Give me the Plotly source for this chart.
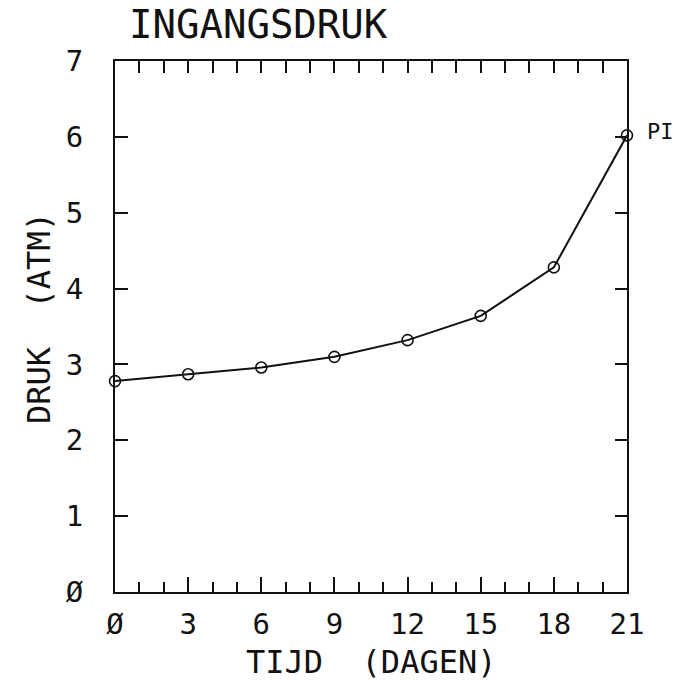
import plotly.graph_objects as go

# Inlet pressure over time
dagen = [0, 3, 6, 9, 12, 15, 18, 21]
druk = [2.78, 2.87, 2.96, 3.10, 3.32, 3.64, 4.28, 6.02]

x_ticks = [0, 3, 6, 9, 12, 15, 18, 21]
x_ticktext = ["Ø", "3", "6", "9", "12", "15", "18", "21"]
y_ticks = [0, 1, 2, 3, 4, 5, 6, 7]
y_ticktext = ["Ø", "1", "2", "3", "4", "5", "6", "7"]

FONT = "DejaVu Sans Mono"
INK = "#111111"

fig = go.Figure()
fig.add_trace(go.Scatter(
    x=dagen, y=druk, mode="lines+markers",
    line=dict(color=INK, width=2),
    marker=dict(symbol="circle-open", size=11, color=INK, line=dict(width=1.6, color=INK)),
    cliponaxis=False, showlegend=False,
))
# invisible trace to activate the top/right mirror axes
fig.add_trace(go.Scatter(x=[0, 21], y=[0, 7], xaxis="x2", yaxis="y2",
                         mode="markers", marker=dict(opacity=0), showlegend=False,
                         hoverinfo="skip"))

fig.update_layout(
    width=673, height=683,
    margin=dict(l=115, r=46, t=61, b=91),
    paper_bgcolor="white", plot_bgcolor="white",
    font=dict(family=FONT, color=INK),
    xaxis=dict(
        range=[0, 21], tickvals=x_ticks, ticktext=x_ticktext,
        ticks="inside", ticklen=15, tickwidth=1.6, tickcolor=INK,
        minor=dict(dtick=1, ticks="inside", ticklen=10, tickwidth=1.6, tickcolor=INK),
        showgrid=False, zeroline=False, showline=True, linecolor=INK, linewidth=2,
        tickfont=dict(size=29, family=FONT, color=INK), ticklabelstandoff=5,
    ),
    yaxis=dict(
        range=[0, 7], tickvals=y_ticks, ticktext=y_ticktext,
        ticks="inside", ticklen=13, tickwidth=1.6, tickcolor=INK,
        showgrid=False, zeroline=False, showline=True, linecolor=INK, linewidth=2,
        tickfont=dict(size=29, family=FONT, color=INK), ticklabelstandoff=24,
    ),
    xaxis2=dict(
        range=[0, 21], overlaying="x", side="top", tickvals=list(range(1, 21)),
        showticklabels=False, ticks="inside", ticklen=12, tickwidth=1.6, tickcolor=INK,
        showgrid=False, zeroline=False, showline=True, linecolor=INK, linewidth=2,
    ),
    yaxis2=dict(
        range=[0, 7], overlaying="y", side="right", tickvals=list(range(1, 7)),
        showticklabels=False, ticks="inside", ticklen=12, tickwidth=1.6, tickcolor=INK,
        showgrid=False, zeroline=False, showline=True, linecolor=INK, linewidth=2,
    ),
    annotations=[
        dict(text="INGANGSDRUK", xref="paper", yref="paper", x=(127 - 115) / 512,
             y=1 + (61 - 25) / 531, xanchor="left", yanchor="middle", showarrow=False,
             font=dict(size=39, family=FONT, color=INK)),
        dict(text="TIJD\u00a0\u00a0(DAGEN)", xref="paper", yref="paper", x=0.5,
             y=-(662 - 592) / 531, xanchor="center", yanchor="middle", showarrow=False,
             font=dict(size=32, family=FONT, color=INK)),
        dict(text="DRUK\u00a0\u00a0(ATM)", xref="paper", yref="paper",
             x=-(115 - 39) / 512, y=(592 - 318) / 531, xanchor="center", yanchor="middle",
             textangle=-90, showarrow=False, font=dict(size=32, family=FONT, color=INK)),
        dict(text="PI", x=dagen[-1], y=druk[-1], xref="x", yref="y", xanchor="left",
             yanchor="middle", xshift=18, yshift=4, showarrow=False,
             font=dict(size=22, family=FONT, color=INK)),
    ],
)

fig.write_html("out.html")
